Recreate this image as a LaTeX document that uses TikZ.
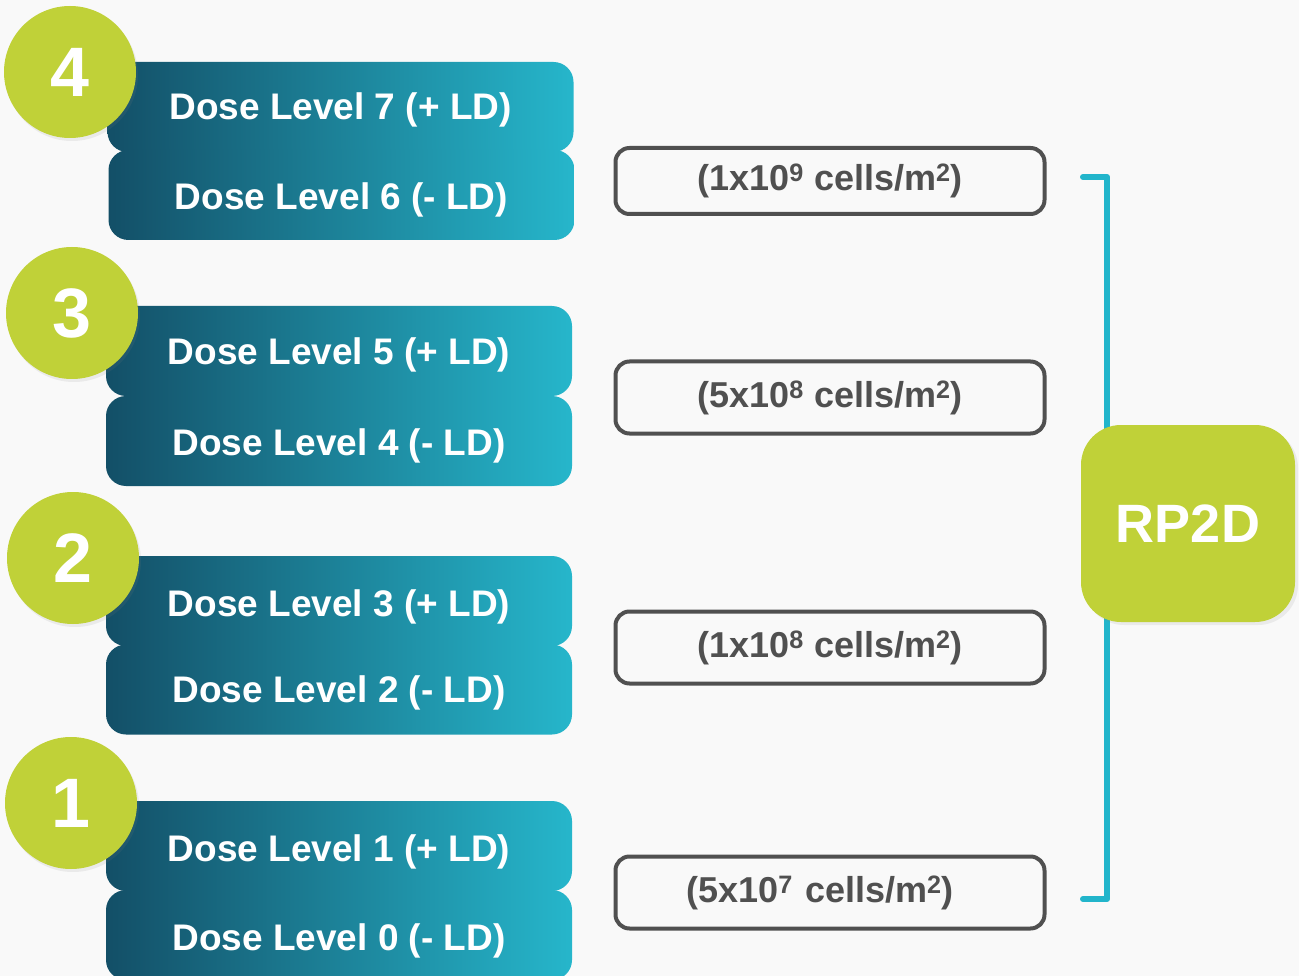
\documentclass[tikz,border=0pt]{standalone}
\usepackage{fontspec}
\setmainfont{Liberation Sans}
\usetikzlibrary{shadows}
\definecolor{tdark}{HTML}{134F67}
\definecolor{tlight}{HTML}{26B6CB}
\definecolor{lime}{HTML}{C0D138}
\definecolor{gfive}{HTML}{505050}
\definecolor{bgc}{HTML}{F9F9F9}
\definecolor{brk}{HTML}{22B5CB}
\tikzset{
  dlbox/.style={rounded corners=20pt, minimum width=466pt, minimum height=90pt,
    left color=tdark, right color=tlight, text=white, inner sep=0pt,
    font=\bfseries\fontsize{37}{42}\selectfont},
  numcirc/.style={circle, fill=lime, minimum size=132pt, text=white, inner sep=0pt,
    font=\bfseries\fontsize{70}{80}\selectfont,
    drop shadow={opacity=0.12, shadow xshift=2pt, shadow yshift=-3pt}},
  cellbox/.style={draw=gfive, line width=4pt, rounded corners=14pt, fill=bgc,
    minimum width=429pt, text=gfive, inner sep=0pt,
    font=\bfseries\fontsize{36}{40}\selectfont},
  rpbox/.style={rounded corners=40pt, fill=lime, minimum width=214pt, minimum height=197pt,
    text=white, inner sep=0pt, font=\bfseries\fontsize{54}{60}\selectfont,
    drop shadow={opacity=0.12, shadow xshift=3pt, shadow yshift=-3pt}},
  bracketline/.style={draw=brk, line width=6pt, line cap=round, line join=round},
  lbl/.style={text=white, font=\bfseries\fontsize{37}{42}\selectfont, inner sep=0pt},
}
\begin{document}
\begin{tikzpicture}[x=1pt,y=-1pt]
\fill[bgc] (0,0) rectangle (1299,976);
\useasboundingbox (0,0) rectangle (1299,976);
% dose level boxes
\node[dlbox, text depth=0pt, text height=0pt] (d7) at (340.5,107) {};
\node[dlbox] (d6) at (341.5,195) {};
\node[dlbox] (d5) at (339,351) {};
\node[dlbox] (d4) at (339,441) {};
\node[dlbox] (d3) at (339,601) {};
\node[dlbox] (d2) at (339,689.5) {};
\node[dlbox] (d1) at (339,846) {};
\node[dlbox] (d0) at (339,935) {};
\node[lbl, anchor=base] at ([yshift=-13pt]d7.center) {Dose Level 7 (+ LD)};
\node[lbl, anchor=base] at ([yshift=-15pt]d6.center) {Dose Level 6 (- LD)};
\node[lbl, anchor=base] at ([yshift=-14pt]d5.center) {Dose Level 5 (+ LD)};
\node[lbl, anchor=base] at ([yshift=-14pt]d4.center) {Dose Level 4 (- LD)};
\node[lbl, anchor=base] at ([yshift=-15pt]d3.center) {Dose Level 3 (+ LD)};
\node[lbl, anchor=base] at ([yshift=-13pt]d2.center) {Dose Level 2 (- LD)};
\node[lbl, anchor=base] at ([yshift=-15pt]d1.center) {Dose Level 1 (+ LD)};
\node[lbl, anchor=base] at ([yshift=-15pt]d0.center) {Dose Level 0 (- LD)};
% number circles
\node[numcirc] (c4) at (70,72) {4};
\node[numcirc] (c3) at (72,313) {3};
\node[numcirc] (c2) at (73,558) {2};
\node[numcirc] (c1) at (71,803) {1};
% cell boxes
\node[cellbox, minimum height=66pt] (e9) at (830,181) {(1x10\textsuperscript{9} cells/m\textsuperscript{2})};
\node[cellbox, minimum height=72pt] (e8a) at (830,397.5) {(5x10\textsuperscript{8} cells/m\textsuperscript{2})};
\node[cellbox, minimum height=72pt] (e8b) at (830,647.5) {(1x10\textsuperscript{8} cells/m\textsuperscript{2})};
\node[cellbox, minimum height=72pt, text width=429pt, align=center] (e7) at (830,892.5) {\hspace*{-20pt}(5x10\textsuperscript{7} cells/m\textsuperscript{2})};
% bracket
\coordinate (bt) at (1083,177);
\coordinate (bb) at (1083,899);
\draw[bracketline] (bt) -- ++(24,0) |- (bb);
% RP2D
\node[rpbox] (rp) at (1188,523.5) {RP2D};
\end{tikzpicture}
\end{document}
